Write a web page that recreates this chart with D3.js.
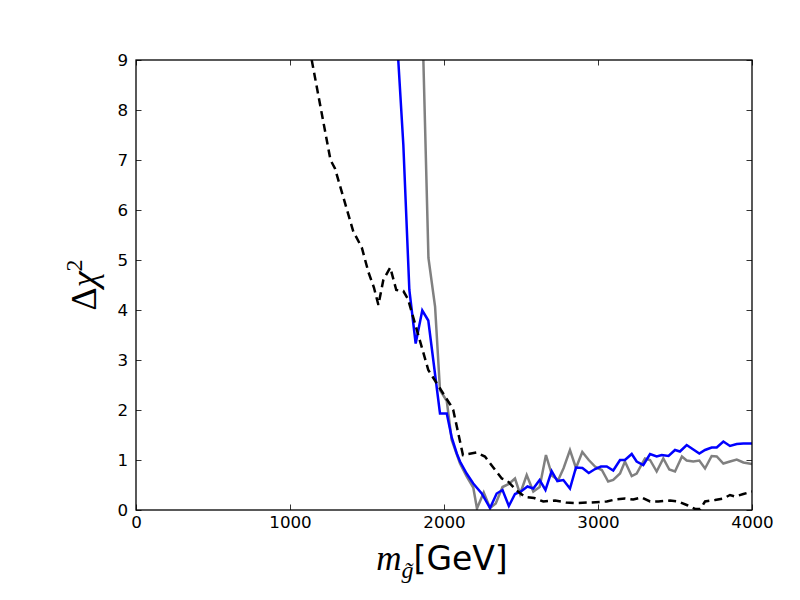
<!DOCTYPE html>
<html><head><meta charset="utf-8">
<script src="https://cdn.jsdelivr.net/npm/d3@7"></script>
<style>body{margin:0;background:#fff}</style>
</head><body>
<script>
// ---- data ----
const xTicks = [0, 1000, 2000, 3000, 4000];
const yTicks = [0, 1, 2, 3, 4, 5, 6, 7, 8, 9];

const blueX = [1703,1736,1775,1816,1859,1898,1974,2018,2050,2083,2104,2147,2190,2245,2299,2342,2380,2421,2461,2500,2542,2580,2621,2659,2699,2736,2775,2818,2857,2899,2940,2981,3019,3057,3099,3143,3175,3219,3251,3294,3338,3381,3414,3458,3500,3532,3576,3619,3658,3695,3738,3771,3814,3857,3901,3944,4000];
const blueY = [9.0,7.3,4.4,3.33,3.99,3.79,1.93,1.93,1.45,1.13,0.97,0.73,0.53,0.33,0.04,0.33,0.40,0.08,0.32,0.37,0.47,0.43,0.60,0.40,0.78,0.58,0.60,0.43,0.85,0.84,0.74,0.82,0.87,0.87,0.79,1.00,1.00,1.12,0.97,0.90,1.12,1.07,1.10,1.08,1.20,1.17,1.30,1.21,1.13,1.20,1.25,1.25,1.37,1.28,1.32,1.33,1.33];

const grayX = [1866,1899,1942,1974,2018,2050,2104,2147,2190,2214,2258,2299,2336,2380,2421,2461,2494,2537,2580,2621,2662,2703,2742,2777,2818,2857,2898,2940,2984,3025,3066,3099,3143,3175,3219,3251,3305,3338,3381,3424,3463,3500,3545,3576,3619,3658,3695,3738,3771,3814,3857,3901,3944,4000];
const grayY = [9.0,5.04,4.07,2.4,2.18,1.4,0.93,0.67,0.45,0.03,0.35,0.04,0.13,0.46,0.52,0.63,0.32,0.70,0.37,0.46,1.10,0.68,0.60,0.84,1.20,0.84,1.16,1.00,0.86,0.80,0.57,0.60,0.73,0.97,0.68,0.73,1.03,1.00,0.77,1.03,0.81,0.77,1.07,0.99,0.97,0.99,0.83,1.08,1.07,0.93,0.97,1.01,0.95,0.92];

const dashX = [1141,1263,1292,1411,1466,1510,1545,1574,1606,1651,1690,1736,1766,1898,2042,2060,2123,2211,2266,2320,2375,2413,2472,2526,2585,2645,2721,2792,2851,2948,3057,3110,3175,3229,3284,3338,3392,3468,3521,3576,3630,3664,3695,3760,3814,3857,3890,3944,4000];
const dashY = [9.0,7.0,6.83,5.57,5.25,4.75,4.45,4.1,4.6,4.85,4.4,4.38,4.22,2.8,2.1,2.0,1.1,1.15,1.07,0.85,0.63,0.58,0.39,0.26,0.24,0.17,0.19,0.15,0.14,0.15,0.17,0.21,0.23,0.21,0.25,0.17,0.17,0.19,0.17,0.10,0.02,0.02,0.17,0.20,0.23,0.30,0.27,0.32,0.37];

// ---- layout ----
const W = 800, H = 600;
const L = 136, R = 752, T = 60, B = 510;

const svg = d3.select("body").append("svg").attr("width", W).attr("height", H)
  .style("font-family", "DejaVu Sans");

const x = d3.scaleLinear().domain([0, 4000]).range([L, R]);
const y = d3.scaleLinear().domain([0, 9]).range([B, T]);

svg.append("defs").append("clipPath").attr("id", "clip")
  .append("rect").attr("x", L).attr("y", T).attr("width", R - L).attr("height", B - T);

const line = d3.line().x(d => x(d[0])).y(d => y(d[1]));
const g = svg.append("g").attr("clip-path", "url(#clip)");

g.append("path").datum(d3.zip(grayX, grayY)).attr("d", line)
  .attr("fill", "none").attr("stroke", "#808080").attr("stroke-width", 2.5);
g.append("path").datum(d3.zip(blueX, blueY)).attr("d", line)
  .attr("fill", "none").attr("stroke", "#0000ff").attr("stroke-width", 2.5);
g.append("path").datum(d3.zip(dashX, dashY)).attr("d", line)
  .attr("fill", "none").attr("stroke", "#000").attr("stroke-width", 2.5)
  .attr("stroke-dasharray", "8,5");

// axes (classic: ticks inward on all sides)
const tk = 5.5;
const ax = svg.append("g").attr("transform", `translate(0,${B})`)
  .call(d3.axisBottom(x).tickValues(xTicks).tickSizeInner(-tk).tickSizeOuter(0).tickPadding(6).tickFormat(d3.format("d")));
const ay = svg.append("g").attr("transform", `translate(${L},0)`)
  .call(d3.axisLeft(y).tickValues(yTicks).tickSizeInner(-tk).tickSizeOuter(0).tickPadding(8).tickFormat(d3.format("d")));
const at = svg.append("g").attr("transform", `translate(0,${T})`)
  .call(d3.axisTop(x).tickValues(xTicks).tickSizeInner(-tk).tickSizeOuter(0).tickFormat(""));
const ar = svg.append("g").attr("transform", `translate(${R},0)`)
  .call(d3.axisRight(y).tickValues(yTicks).tickSizeInner(-tk).tickSizeOuter(0).tickFormat(""));

[ax, ay, at, ar].forEach(a => {
  a.select(".domain").remove();
  a.selectAll(".tick line").attr("stroke", "#000").attr("stroke-width", 0.8);
  a.selectAll("text").attr("font-size", 16.7).attr("font-family", "DejaVu Sans").attr("fill", "#000");
});

svg.append("rect").attr("x", L).attr("y", T).attr("width", R - L).attr("height", B - T)
  .attr("fill", "none").attr("stroke", "#000").attr("stroke-width", 1.3);

// x label
const xl = svg.append("text").attr("x", 442).attr("y", 570).attr("text-anchor", "middle")
  .attr("font-size", 35).attr("fill", "#000");
xl.append("tspan").attr("font-family", "Liberation Serif").attr("font-style", "italic").text("m");
xl.append("tspan").attr("font-family", "Liberation Serif").attr("font-style", "italic")
  .attr("font-size", 24).attr("dy", 8).text("g\u0303");
xl.append("tspan").attr("font-family", "DejaVu Sans").attr("font-size", 33).attr("dy", -8).text("[GeV]");

// y label
const yl = svg.append("text").attr("transform", "translate(96,285) rotate(-90)")
  .attr("text-anchor", "middle").attr("font-size", 36).attr("fill", "#000")
  .attr("font-family", "Liberation Serif");
yl.append("tspan").text("\u0394");
yl.append("tspan").attr("font-style", "italic").text("\u03C7");
yl.append("tspan").attr("font-size", 24).attr("dy", -14).text("2");
</script>
</body></html>
